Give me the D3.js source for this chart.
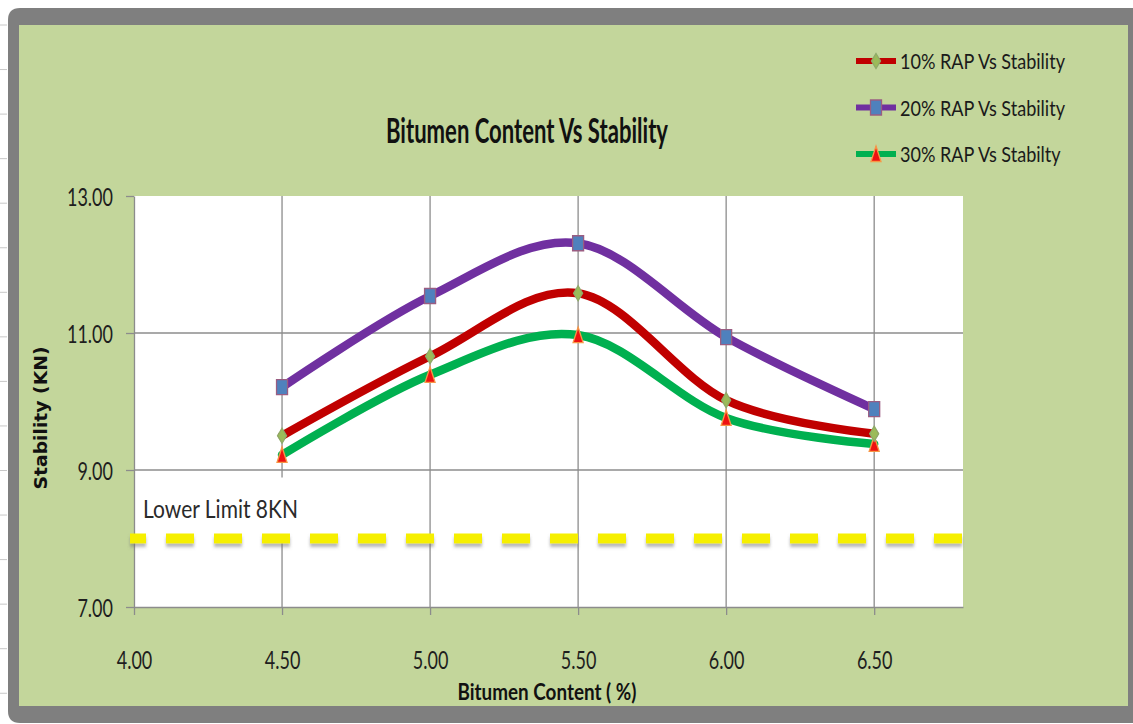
<!DOCTYPE html>
<html>
<head>
<meta charset="utf-8">
<script src="https://cdn.jsdelivr.net/npm/d3@7"></script>
<style>
  html, body { margin: 0; padding: 0; background: #fff; }
  svg { display: block; }
</style>
</head>
<body>
<svg id="chart" width="1133" height="724"></svg>
<script>
// Bitumen content (%) on the x axis
const bitumen = [4.5, 5.0, 5.5, 6.0, 6.5];
// Marshall stability (kN) for each RAP percentage
const rap10 = [9.50, 10.66, 11.58, 10.02, 9.53];
const rap20 = [10.21, 11.54, 12.31, 10.94, 9.89];
const rap30 = [9.22, 10.39, 10.97, 9.76, 9.38];
const seriesNames = ["10% RAP Vs Stability", "20% RAP Vs Stability", "30% RAP Vs Stabilty"];
const xTicks = [4.0, 4.5, 5.0, 5.5, 6.0, 6.5];
const yTicks = [7, 9, 11, 13];
const lowerLimit = 8;
const lowerLimitLabel = "Lower Limit 8KN";

const sans = "Lato, 'Liberation Sans', Arial, sans-serif";
const svg = d3.select("#chart");

// condense text horizontally: either by a factor or to a fixed width
function squeeze(sel, k) {
  sel.each(function () {
    const w = this.getComputedTextLength();
    d3.select(this).attr("textLength", w * k).attr("lengthAdjust", "spacingAndGlyphs");
  });
}
function fitTo(sel, width) {
  sel.attr("textLength", width).attr("lengthAdjust", "spacingAndGlyphs");
}

// faint sheet row marks along the left edge
svg.append("g").selectAll("line")
  .data(d3.range(16))
  .join("line")
  .attr("x1", 0).attr("x2", 7)
  .attr("y1", i => 25 + i * 44.55).attr("y2", i => 25 + i * 44.55)
  .attr("stroke", "#c8c8c8").attr("stroke-width", 1);

// outer frame and chart panel
svg.append("path")
  .attr("d", "M8,20 Q8,8 20,8 L1133,8 L1133,723 L20,723 Q8,723 8,711 Z")
  .attr("fill", "#7f7f7f");
svg.append("rect")
  .attr("x", 19).attr("y", 25).attr("width", 1109).attr("height", 681)
  .attr("fill", "#c3d69b");

const x = d3.scaleLinear().domain([4.0, 6.8]).range([134, 963]);
const y = d3.scaleLinear().domain([7, 13]).range([607, 196]);

// plot area
svg.append("rect")
  .attr("x", x(4.0)).attr("y", y(13))
  .attr("width", x(6.8) - x(4.0)).attr("height", y(7) - y(13))
  .attr("fill", "#fff");

const defs = svg.append("defs");
const shadow = defs.append("filter").attr("id", "dashShadow")
  .attr("filterUnits", "userSpaceOnUse")
  .attr("x", 100).attr("y", 480).attr("width", 900).attr("height", 120);
shadow.append("feDropShadow")
  .attr("dx", 0).attr("dy", 3.5).attr("stdDeviation", 1.8)
  .attr("flood-color", "#6f6f6f").attr("flood-opacity", 0.5);

// gridlines
const grid = svg.append("g").attr("stroke", "#8c8c8c").attr("stroke-width", 1.3);
grid.selectAll("line.h")
  .data(yTicks.filter(v => v > 7 && v < 13))
  .join("line").attr("class", "h")
  .attr("x1", x(4.0)).attr("x2", x(6.8))
  .attr("y1", d => y(d)).attr("y2", d => y(d));
grid.selectAll("line.v")
  .data(xTicks.filter(v => v > 4.0))
  .join("line").attr("class", "v")
  .attr("x1", d => x(d)).attr("x2", d => x(d))
  .attr("y1", y(13)).attr("y2", y(7));

// axes
const xAxis = d3.axisBottom(x).tickValues(xTicks).tickFormat(d3.format(".2f"))
  .tickSizeInner(8).tickSizeOuter(0).tickPadding(36);
const yAxis = d3.axisLeft(y).tickValues(yTicks).tickFormat(d3.format(".2f"))
  .tickSizeInner(8).tickSizeOuter(0).tickPadding(13);

const gx = svg.append("g").attr("transform", `translate(0,${y(7)})`).call(xAxis);
const gy = svg.append("g").attr("transform", `translate(${x(4.0)},0)`).call(yAxis);
[gx, gy].forEach(g => {
  g.select(".domain").attr("stroke", "#8c8c8c").attr("stroke-width", 1.3);
  g.selectAll(".tick line").attr("stroke", "#8c8c8c").attr("stroke-width", 1.3);
  g.selectAll(".tick text")
    .attr("font-family", sans).attr("font-size", 25).attr("fill", "#1e1e1e");
});
// horizontal condensing shared by all tick labels, sized from the widest label
const tickRef = gy.selectAll(".tick text").filter(d => d === 13).node();
const tickK = 46 / tickRef.getComputedTextLength();
gx.selectAll(".tick text").call(squeeze, tickK).attr("dy", "0.71em");
gy.selectAll(".tick text").call(squeeze, tickK).attr("dy", "0.36em");

// label box for the lower limit (white fill hides the gridline behind it)
const limY = y(lowerLimit);
svg.append("rect")
  .attr("x", x(4.0) + 2).attr("y", limY - 61)
  .attr("width", 170).attr("height", 61)
  .attr("fill", "#fff");
svg.append("text")
  .attr("x", x(4.0) + 9).attr("y", limY - 21)
  .attr("font-family", sans).attr("font-size", 25).attr("fill", "#2a2a2a")
  .text(lowerLimitLabel)
  .call(fitTo, 155);

// lower limit dashed line
svg.append("line")
  .attr("x1", x(4.0) - 4).attr("x2", x(6.8))
  .attr("y1", limY).attr("y2", limY)
  .attr("stroke", "#f6ef00").attr("stroke-width", 10)
  .attr("stroke-dasharray", "28,20").attr("stroke-dashoffset", 12)
  .attr("filter", "url(#dashShadow)");

// series
const series = [
  { name: seriesNames[0], values: rap10, line: "#c00000", marker: "diamond", fill: "#9bbb59", edge: "#8faa6a" },
  { name: seriesNames[1], values: rap20, line: "#7030a0", marker: "square", fill: "#4f81bd", edge: "#9a5d82" },
  { name: seriesNames[2], values: rap30, line: "#00b050", marker: "triangle", fill: "#ee1111", edge: "#f79646" }
];

function markerPath(type) {
  if (type === "diamond") return "M0,-7.5 L4.5,0 L0,7.5 L-4.5,0 Z";
  if (type === "square") return "M-5.5,-7.5 L5.5,-7.5 L5.5,7.5 L-5.5,7.5 Z";
  return "M0,-8 L5,7.5 L-5,7.5 Z";
}

const lineGen = d3.line()
  .x((d, i) => x(bitumen[i]))
  .y(d => y(d))
  .curve(d3.curveCardinal.tension(0));

// draw order: green under red under purple
const drawOrder = [2, 0, 1];
drawOrder.forEach(k => {
  const s = series[k];
  svg.append("path")
    .datum(s.values)
    .attr("d", lineGen)
    .attr("fill", "none")
    .attr("stroke", s.line)
    .attr("stroke-width", 8.5)
    .attr("stroke-linecap", "round")
    .attr("stroke-linejoin", "round");
});
drawOrder.forEach(k => {
  const s = series[k];
  svg.append("g").selectAll("path")
    .data(s.values)
    .join("path")
    .attr("transform", (d, i) => `translate(${x(bitumen[i])},${y(d)})`)
    .attr("d", markerPath(s.marker))
    .attr("fill", s.fill)
    .attr("stroke", s.edge)
    .attr("stroke-width", 1.3);
});

// title
svg.append("text")
  .attr("x", 527).attr("y", 143)
  .attr("text-anchor", "middle")
  .attr("font-family", sans).attr("font-weight", "bold").attr("font-size", 34)
  .attr("fill", "#111")
  .text("Bitumen Content Vs Stability")
  .call(fitTo, 282);

// axis titles
svg.append("text")
  .attr("x", 547).attr("y", 700)
  .attr("text-anchor", "middle")
  .attr("font-family", sans).attr("font-weight", "bold").attr("font-size", 22)
  .attr("fill", "#111")
  .text("Bitumen Content ( %)")
  .call(fitTo, 179);

svg.append("text")
  .attr("transform", "translate(47,418) rotate(-90)")
  .attr("text-anchor", "middle")
  .attr("font-family", "'DejaVu Sans', Verdana, sans-serif")
  .attr("font-weight", "bold").attr("font-size", 17)
  .attr("fill", "#111")
  .text("Stability (KN)")
  .call(fitTo, 143);

// legend
const legend = svg.append("g");
const legendRows = [];
series.forEach((s, i) => {
  const cy = 61 + i * 46.5;
  const g = legend.append("g").attr("transform", `translate(0,${cy})`);
  g.append("line")
    .attr("x1", 856).attr("x2", 896).attr("y1", 0).attr("y2", 0)
    .attr("stroke", s.line).attr("stroke-width", 6);
  g.append("path")
    .attr("transform", "translate(876,0)")
    .attr("d", markerPath(s.marker))
    .attr("fill", s.fill).attr("stroke", s.edge).attr("stroke-width", 1.3);
  legendRows.push(g.append("text")
    .attr("x", 900).attr("y", 8)
    .attr("font-family", sans).attr("font-size", 22).attr("fill", "#1a1a1a")
    .text(s.name).node());
});
const legendK = 165 / legendRows[0].getComputedTextLength();
d3.selectAll(legendRows).call(squeeze, legendK);
</script>
</body>
</html>
